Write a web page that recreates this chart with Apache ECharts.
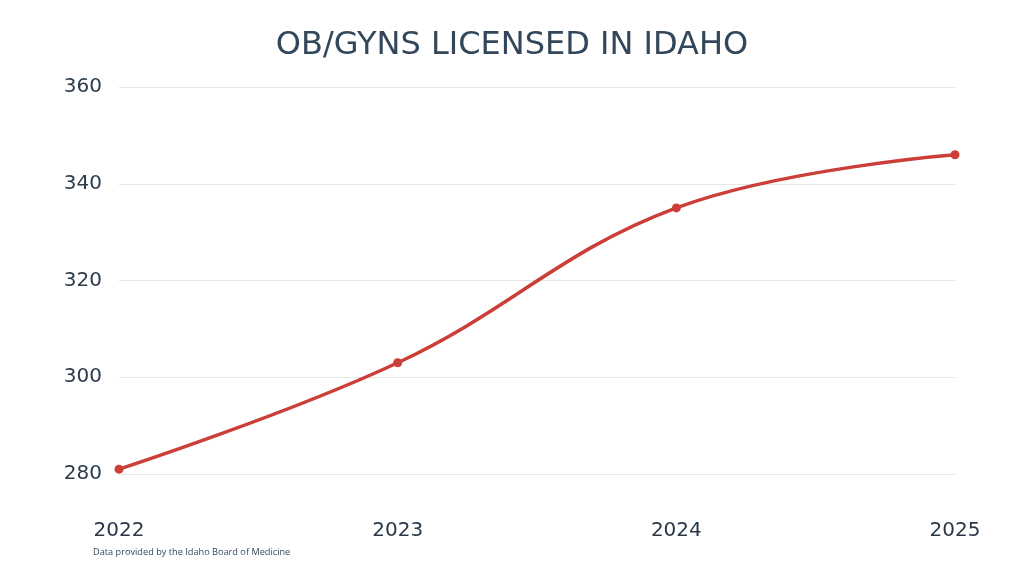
<!DOCTYPE html>
<html><head><meta charset="utf-8">
<script src="https://cdn.jsdelivr.net/npm/echarts@6/dist/echarts.min.js"></script>
<style>html,body{margin:0;padding:0;background:#fff}#c{width:1024px;height:576px}</style>
</head><body><div id="c"></div>
<script>
const categories = ['2022', '2023', '2024', '2025'];
const licensed = [281, 303, 335, 346];
const yTicks = { min: 280, max: 360, interval: 20 };

const chart = echarts.init(document.getElementById('c'));
const textColor = '#2c3c4c';
chart.setOption({
  backgroundColor: '#fff',
  animation: false,
  title: [{
    text: 'OB/GYNS LICENSED IN IDAHO',
    left: 'center', top: 25,
    textStyle: { fontFamily: 'DejaVu Sans', fontSize: 32, fontWeight: 'normal', color: '#33475b' }
  }, {
    text: 'Data provided by the Idaho Board of Medicine',
    left: 88, top: 543,
    textStyle: { fontFamily: 'Open Sans', fontSize: 9.2, fontWeight: 400, color: '#34495e' }
  }],
  grid: { left: 119, right: 69, top: 87, bottom: 102 },
  xAxis: {
    type: 'category', data: categories, boundaryGap: false,
    axisLine: { show: false }, axisTick: { show: false },
    axisLabel: { margin: 47, fontFamily: 'DejaVu Sans', fontSize: 20, fontWeight: 'normal', color: '#283848' }
  },
  yAxis: {
    type: 'value', min: yTicks.min, max: yTicks.max, interval: yTicks.interval,
    axisLine: { show: false }, axisTick: { show: false },
    splitLine: { lineStyle: { color: '#e6e6e6', width: 1 } },
    axisLabel: { margin: 17, fontFamily: 'DejaVu Sans', fontSize: 20, fontWeight: 'normal', color: textColor }
  },
  series: [{
    type: 'line', data: licensed, smooth: 0.4,
    symbol: 'circle', symbolSize: 9,
    lineStyle: { color: '#cc3f39', width: 3.5 },
    itemStyle: { color: '#cc3f39' }
  }]
});
</script></body></html>
